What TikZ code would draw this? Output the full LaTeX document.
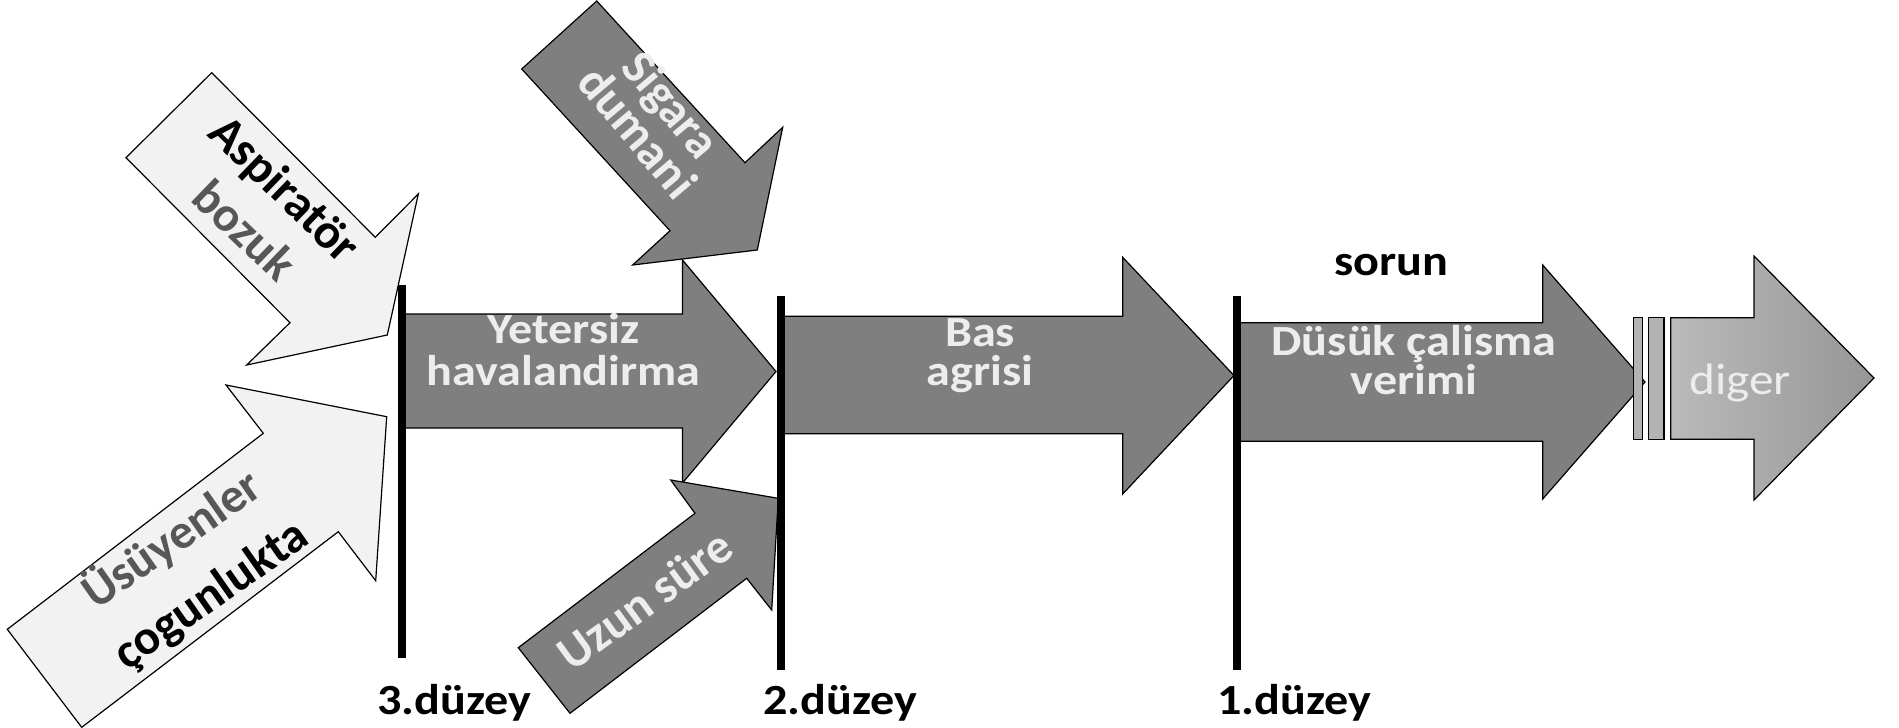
\documentclass[tikz,border=0pt]{standalone}
\usepackage{fontspec}
\setmainfont{Carlito}
\definecolor{mainfill}{HTML}{7F7F7F}
\definecolor{lightfill}{HTML}{F2F2F2}
\definecolor{lighttxt}{HTML}{EDEDED}
\definecolor{dimtxt}{HTML}{575757}
\definecolor{digerA}{HTML}{BABABA}
\definecolor{digerB}{HTML}{969696}
\definecolor{rectfill}{HTML}{B3B3B3}
\begin{document}
\begin{tikzpicture}[x=1pt,y=-1pt,
  shapeline/.style={draw=black, line width=1.2pt, line join=miter},
  darkarrow/.style={shapeline, fill=mainfill},
  lightarrow/.style={shapeline, fill=lightfill},
  levelbar/.style={line width=8pt, black},
  htext/.style={inner sep=0pt, anchor=base, align=center, xscale=1.12, transform shape},
  intext/.style={htext, text=lighttxt},
  rtext/.style={inner sep=0pt, anchor=center, align=center},
  leveltext/.style={htext, text=black, font=\bfseries\fontsize{43}{43}\selectfont}
]
\useasboundingbox (0,0) rectangle (1899,728);
% main chain
\draw[darkarrow] (402,314) -- (682.5,314) -- (682.5,260) -- (776,371.5) -- (682.5,483) -- (682.5,428) -- (402,428) -- cycle;
\draw[darkarrow] (781,316.3) -- (1122.7,316.3) -- (1122.7,257.3) -- (1234,375.5) -- (1122.7,494) -- (1122.7,433.7) -- (781,433.7) -- cycle;
\draw[darkarrow] (1237,322.7) -- (1542.7,322.7) -- (1542.7,265) -- (1645,382) -- (1542.7,499) -- (1542.7,441.3) -- (1237,441.3) -- cycle;
\draw[shapeline, fill=rectfill] (1633.3,317.7) rectangle (1642.3,439.3);
\draw[shapeline, fill=rectfill] (1648.3,317.7) rectangle (1664,439.3);
\draw[shapeline, left color=digerA, right color=digerB] (1670.7,317.7) -- (1754,317.7) -- (1754,256) -- (1874,378) -- (1754,500) -- (1754,439.3) -- (1670.7,439.3) -- cycle;
% side arrows
\draw[lightarrow] (211.7,72.7) -- (375.3,237.3) -- (418.3,194) -- (387.3,335) -- (246.7,365) -- (290,322.7) -- (126,157.7) -- cycle;
\draw[lightarrow] (7.3,629.3) -- (263.3,433.3) -- (226,385) -- (386.7,416.7) -- (375.7,580.7) -- (338.3,531.7) -- (81.7,727.3) -- cycle;
\draw[darkarrow] (518.3,647.7) -- (695,513.3) -- (670.7,480) -- (778.3,498.3) -- (771.7,610) -- (746.7,578.3) -- (570,713.3) -- cycle;
\draw[darkarrow] (521.7,69) -- (596.7,1) -- (745,162.7) -- (782.7,127.3) -- (757.3,250) -- (632.7,265) -- (670,230.7) -- cycle;
% level bars
\draw[levelbar] (402,285) -- (402,658);
\draw[levelbar] (781,296) -- (781,670);
\draw[levelbar] (1237,296) -- (1237,670);
% texts in main arrows (anchor = baseline of the last line)
\node[intext, font=\bfseries\fontsize{43}{42}\selectfont] (t1) at (563.5,385) {Yetersiz\\havalandirma};
\node[intext, font=\bfseries\fontsize{43}{39}\selectfont] (t2) at (980,385.7) {Bas\\agrisi};
\node[intext, font=\bfseries\fontsize{43}{39}\selectfont] (t3) at (1414,394) {Düsük çalisma\\verimi};
\node[intext, font=\fontsize{44}{44}\selectfont] (t4) at (1740,394) {diger};
\node[leveltext] (sorun) at (1391,275) {sorun};
% rotated texts
\node[rtext, rotate=-44, font=\bfseries\fontsize{49}{58}\selectfont, text=black] (asp) at (265.5,209) {Aspiratör\\{\color{dimtxt}bozuk}};
\node[rtext, rotate=35, font=\bfseries\fontsize{49}{67}\selectfont, text=black] (usu) at (191,566.5) {{\color{dimtxt}Üsüyenler}\\çogunlukta};
\node[rtext, rotate=-50, font=\bfseries\fontsize{49}{40}\selectfont, text=lighttxt] (sig) at (655,118) {Sigara\\dumani};
\node[rtext, rotate=36, font=\bfseries\fontsize{49}{49}\selectfont, text=lighttxt] (uzun) at (645,600) {Uzun süre};
% level labels
\node[leveltext] (l3) at (454,714) {3.düzey};
\node[leveltext] (l2) at (840,714) {2.düzey};
\node[leveltext] (l1) at (1294,714) {1.düzey};
\end{tikzpicture}
\end{document}
